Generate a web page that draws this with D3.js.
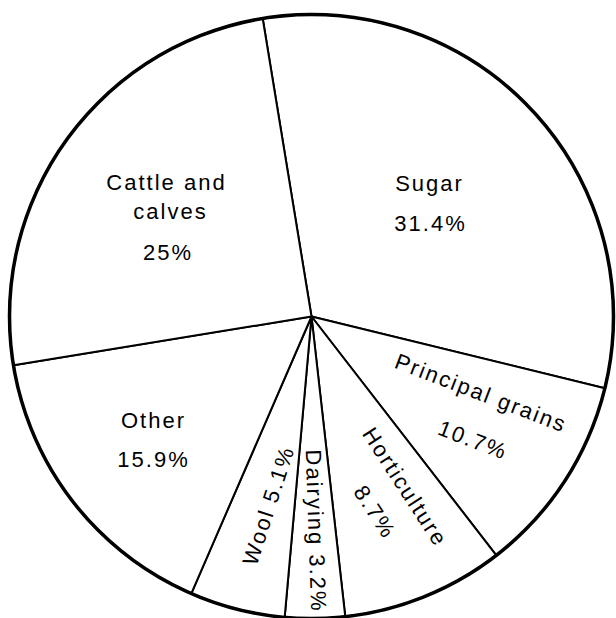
<!DOCTYPE html>
<html>
<head>
<meta charset="utf-8">
<script src="https://cdn.jsdelivr.net/npm/d3@7"></script>
<style>
  html, body { margin: 0; padding: 0; background: #fff; }
  svg { display: block; }
  .lbl { font-family: "Liberation Sans", Arial, Helvetica, sans-serif; font-size: 22px; letter-spacing: 2px; fill: #000; }
</style>
</head>
<body>
<div id="chart"></div>
<script>
// data, clockwise from the top
var categories = ["Sugar", "Principal grains", "Horticulture", "Dairying", "Wool", "Other", "Cattle and calves"];
var shares = [31.4, 10.7, 8.7, 3.2, 5.1, 15.9, 25];
var labelText = [
  ["Sugar", "31.4%"],
  ["Principal grains", "10.7%"],
  ["Horticulture", "8.7%"],
  ["Dairying 3.2%"],
  ["Wool 5.1%"],
  ["Other", "15.9%"],
  ["Cattle and", "calves", "25%"]
];

// label placement (offsets from the pie centre, rotation in degrees)
var labelLayout = [
  [{x: 118, y: -133.5, r: 0}, {x: 119, y: -93.5, r: 0}],
  [{x: 169.5, y: 76.5, r: 21}, {x: 161.5, y: 123.5, r: 21}],
  [{x: 93.5, y: 170.5, r: 57}, {x: 63.5, y: 195.5, r: 57}],
  [{x: 4.5, y: 214.5, r: 88}],
  [{x: -43, y: 189, r: -72}],
  [{x: -158, y: 103.5, r: 0}, {x: -158, y: 142.5, r: 0}],
  [{x: -145, y: -134.5, r: 0}, {x: -141, y: -105.5, r: 0}, {x: -143.5, y: -64.5, r: 0}]
];

var svgWidth = 616;
var svgHeight = 618;
var cx = 311.5, cy = 316.5, radius = 302;

var svg = d3.select("#chart")
    .append("svg")
    .attr("width", svgWidth)
    .attr("height", svgHeight);

var g = svg.append("g")
    .attr("transform", `translate(${cx}, ${cy})`);

var startDeg = -9.3;
var pie = d3.pie()
    .sort(null)
    .value(d => d)
    .startAngle(startDeg * Math.PI / 180)
    .endAngle((startDeg + 360) * Math.PI / 180);

var arc = d3.arc()
    .innerRadius(0)
    .outerRadius(radius);

var arcs = pie(shares);

// slices
g.selectAll("path.slice")
    .data(arcs)
    .enter()
    .append("path")
    .attr("class", "slice")
    .attr("d", arc)
    .attr("fill", "#fff")
    .attr("stroke", "#000")
    .attr("stroke-width", 2)
    .attr("stroke-linejoin", "round");

// heavier outer rim
g.append("circle")
    .attr("r", radius)
    .attr("fill", "none")
    .attr("stroke", "#000")
    .attr("stroke-width", 3.5);

// labels
arcs.forEach((a, i) => {
    labelText[i].forEach((t, j) => {
        var p = labelLayout[i][j];
        g.append("text")
            .attr("class", "lbl")
            .attr("text-anchor", "middle")
            .attr("dominant-baseline", "central")
            .attr("transform", `translate(${p.x}, ${p.y}) rotate(${p.r})`)
            .text(t);
    });
});
</script>
</body>
</html>
